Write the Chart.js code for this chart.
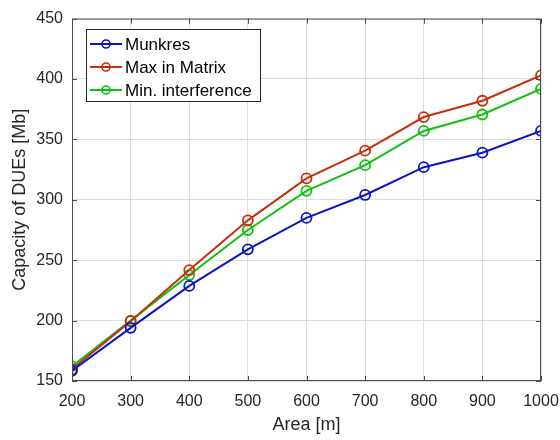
<!DOCTYPE html>
<html>
<head>
<meta charset="utf-8">
<script src="https://cdn.jsdelivr.net/npm/chart.js@4"></script>
<style>
  html, body { margin: 0; padding: 0; background: #fff; }
  #wrap { width: 560px; height: 440px; }
</style>
</head>
<body>
<div id="wrap"><canvas id="myChart" width="560" height="440"></canvas></div>
<script>
var areas = [200, 300, 400, 500, 600, 700, 800, 900, 1000];
var munkres = [158.5, 194, 228.7, 259, 285, 304, 327, 339, 357];
var maxInMatrix = [159.8, 199.5, 241.8, 283, 317.7, 340.7, 368.5, 382, 403];
var minInterference = [162.3, 200, 237.7, 275, 307.4, 328.7, 357, 370.6, 391.8];
var seriesNames = ["Munkres", "Max in Matrix", "Min. interference"];
var seriesColors = ["#0a14c4", "#c2300c", "#12c012"];

var font = "'Liberation Sans', Arial, sans-serif";
var axisColor = "#4d4d4d";
var textColor = "#262626";

var toPoints = (ys) => areas.map((x, i) => ({x: x, y: ys[i]}));

var makeSet = (name, ys, color) => ({
  label: name,
  data: toPoints(ys),
  borderColor: color,
  backgroundColor: "rgba(0,0,0,0)",
  borderWidth: 2,
  pointRadius: 5,
  pointBorderWidth: 1.8,
  pointBackgroundColor: "rgba(0,0,0,0)",
  pointBorderColor: color,
  tension: 0
});

// box around the axes, inward tick marks and the legend in the top-left corner
var boxPlugin = {
  id: "boxPlugin",
  afterDraw: function(chart) {
    var c = chart.ctx, a = chart.chartArea;
    var xs = chart.scales.x, ys = chart.scales.y;
    c.save();
    c.strokeStyle = axisColor;
    c.lineWidth = 1;
    c.beginPath();
    c.rect(a.left + 0.5, a.top + 0.5, a.right - a.left - 1, a.bottom - a.top - 1);
    c.stroke();
    c.beginPath();
    xs.ticks.forEach(function(t) {
      var px = Math.round(xs.getPixelForValue(t.value)) + 0.5;
      c.moveTo(px, a.bottom); c.lineTo(px, a.bottom - 5);
      c.moveTo(px, a.top); c.lineTo(px, a.top + 5);
    });
    ys.ticks.forEach(function(t) {
      var py = Math.round(ys.getPixelForValue(t.value)) + 0.5;
      c.moveTo(a.left, py); c.lineTo(a.left + 5, py);
      c.moveTo(a.right, py); c.lineTo(a.right - 5, py);
    });
    c.stroke();

    // legend
    var lx = 86.5, ly = 29.5, lw = 174, lh = 72;
    c.fillStyle = "#fff";
    c.fillRect(lx, ly, lw, lh);
    c.strokeStyle = "#262626";
    c.strokeRect(lx, ly, lw, lh);
    c.font = "17px " + font;
    c.textBaseline = "middle";
    chart.data.datasets.forEach(function(ds, i) {
      var y = 44 + i * 23;
      c.strokeStyle = ds.borderColor;
      c.lineWidth = 2;
      c.beginPath();
      c.moveTo(90, y); c.lineTo(122, y);
      c.stroke();
      c.lineWidth = 1.6;
      c.beginPath();
      c.arc(106, y, 4, 0, Math.PI * 2);
      c.stroke();
      c.fillStyle = "#000";
      c.fillText(ds.label, 125, y + 1);
    });
    c.restore();
  }
};

var ctx = document.getElementById("myChart");
var myChart = new Chart(ctx, {
  type: "line",
  data: {
    datasets: [
      makeSet(seriesNames[0], munkres, seriesColors[0]),
      makeSet(seriesNames[1], maxInMatrix, seriesColors[1]),
      makeSet(seriesNames[2], minInterference, seriesColors[2])
    ]
  },
  plugins: [boxPlugin],
  options: {
    responsive: false,
    animation: false,
    devicePixelRatio: 1,
    layout: { padding: { top: 16, right: 19, left: 0, bottom: 0 } },
    plugins: {
      legend: { display: false },
      tooltip: { enabled: false }
    },
    scales: {
      x: {
        type: "linear",
        min: 200,
        max: 1000,
        afterFit: function(s) {
          s.height = 59;
          s.paddingLeft = 0;
          s.paddingRight = 0;
        },
        ticks: {
          stepSize: 100,
          color: textColor,
          font: { family: font, size: 16 },
          padding: 11,
          callback: (v) => String(v)
        },
        grid: { color: "#dedede", lineWidth: 1, drawTicks: false },
        border: { display: false },
        title: {
          display: true,
          text: "Area [m]",
          color: textColor,
          font: { family: font, size: 18 },
          padding: { top: 0, bottom: 4 }
        }
      },
      y: {
        min: 150,
        max: 450,
        afterFit: function(s) { s.width = 72; },
        ticks: {
          stepSize: 50,
          color: textColor,
          font: { family: font, size: 16 },
          padding: 9
        },
        grid: { color: "#dedede", lineWidth: 1, drawTicks: false },
        border: { display: false },
        title: {
          display: true,
          text: "Capacity of DUEs [Mb]",
          color: textColor,
          font: { family: font, size: 18 },
          padding: { top: 9, bottom: 0 }
        }
      }
    }
  }
});
</script>
</body>
</html>
